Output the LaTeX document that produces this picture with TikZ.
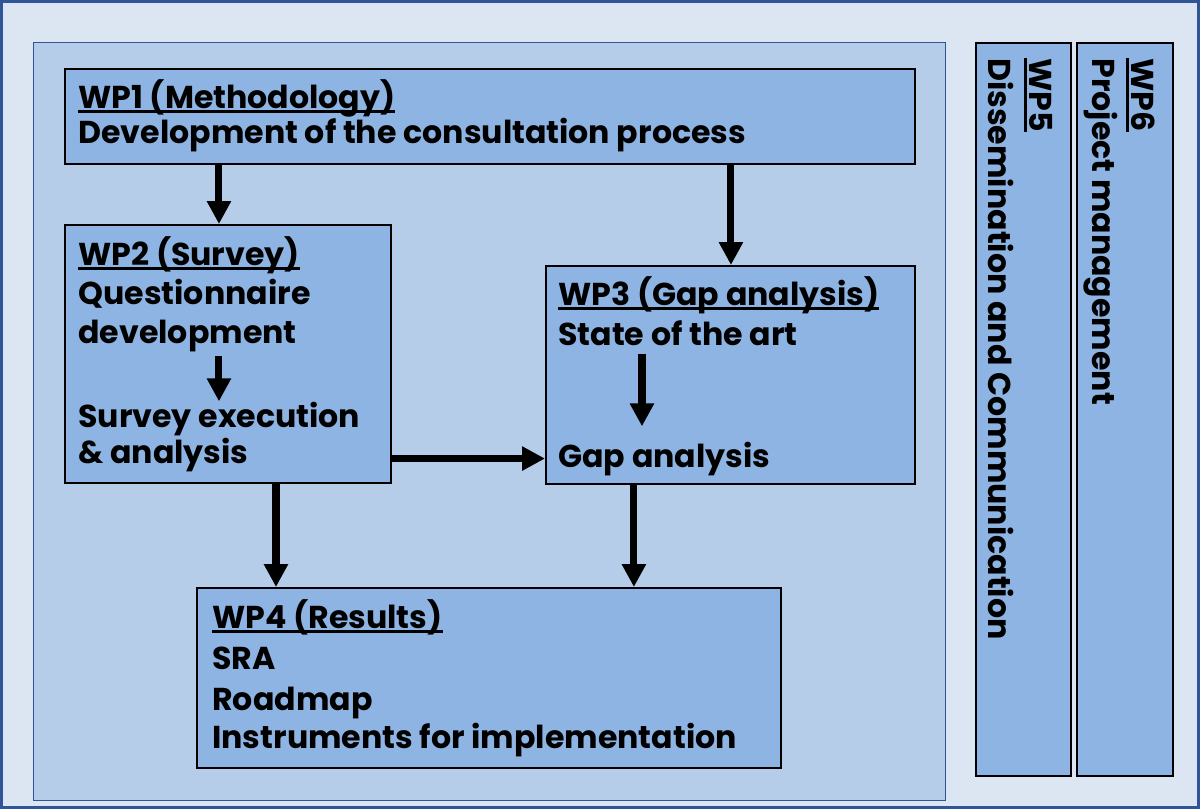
\documentclass[tikz,border=0pt]{standalone}
\usepackage{fontspec}
\setmainfont{Poppins}
\usetikzlibrary{arrows.meta}
\definecolor{outerbg}{RGB}{220,230,242}
\definecolor{panelbg}{RGB}{181,205,232}
\definecolor{wpfill}{RGB}{141,180,226}
\definecolor{frameblue}{RGB}{47,85,151}
\newlength{\wpulwd}
\newcommand{\wpul}[1]{\settowidth{\wpulwd}{#1}\rlap{\rule[-2.6pt]{\wpulwd}{1.3pt}}#1}
\tikzset{
	wpbox/.style={draw=black, line width=1.1pt, fill=wpfill, anchor=north west, inner sep=0pt},
	wptext/.style={anchor=base west, inner sep=0pt, font=\bfseries\fontsize{18}{22}\selectfont},
	wpvert/.style={wptext, rotate=-90},
	flow/.style={line width=4pt, -{Triangle[length=13pt,width=13pt]}}
}
\begin{document}
\begin{tikzpicture}[x=0.02cm,y=-0.02cm]
	\useasboundingbox (0,0) rectangle (1200,809);
	\draw[frameblue, line width=1.5pt, fill=outerbg] (1.3,1.3) rectangle (1198.7,807.7);
	\node[draw=frameblue, line width=0.8pt, fill=panelbg, anchor=north west, inner sep=0pt,
		minimum width=18.24cm, minimum height=15.16cm] (panel) at (33,42) {};
	% work packages
	\node[wpbox, minimum width=17cm, minimum height=1.9cm] (wp1) at (64,68) {};
	\node[wpbox, minimum width=6.52cm, minimum height=5.16cm] (wp2) at (64,224) {};
	\node[wpbox, minimum width=7.38cm, minimum height=4.36cm] (wp3) at (545,265) {};
	\node[wpbox, minimum width=11.68cm, minimum height=3.6cm] (wp4) at (196,587) {};
	\node[wpbox, minimum width=1.9cm, minimum height=14.66cm] (wp5) at (975,42) {};
	\node[wpbox, minimum width=1.92cm, minimum height=14.66cm] (wp6) at (1076,42) {};
	% texts
	\node[wptext] (wp1head) at (78,108) {\wpul{WP1 (Methodology)}};
	\node[wptext] (wp1line) at (78,143) {Development of the consultation process};
	\node[wptext] (wp2head) at (78,265) {\wpul{WP2 (Survey)}};
	\node[wptext] (quest) at (78,304) {Questionnaire};
	\node[wptext] (qdev) at (78,343) {development};
	\node[wptext] (surv) at (78,427) {Survey execution};
	\node[wptext] (sana) at (78,463) {\& analysis};
	\node[wptext] (wp3head) at (558,305) {\wpul{WP3 (Gap analysis)}};
	\node[wptext] (sota) at (558,345) {State of the art};
	\node[wptext] (gap) at (558,467) {Gap analysis};
	\node[wptext] (wp4head) at (212,628) {\wpul{WP4 (Results)}};
	\node[wptext] (sra) at (212,669) {SRA};
	\node[wptext] (road) at (212,710) {Roadmap};
	\node[wptext] (instr) at (212,748) {Instruments for implementation};
	\node[wpvert] (wp5head) at (1029,58) {\wpul{WP5}};
	\node[wpvert] (wp5line) at (988,58) {Dissemination and Communication};
	\node[wpvert] (wp6head) at (1131,58) {\wpul{WP6}};
	\node[wpvert] (wp6line) at (1092,58) {Project management};
	% arrows
	\draw[flow] ([xshift=3.1cm]wp2.north west |- wp1.south) -- ([xshift=3.1cm]wp2.north west);
	\draw[flow] ([xshift=3.72cm]wp3.north west |- wp1.south) -- ([xshift=3.72cm]wp3.north west);
	\draw[flow, shorten <=0.08cm] ([xshift=3.1cm]wp2.north west |- qdev.south) -- ([xshift=3.1cm]wp2.north west |- surv.north);
	\draw[flow, shorten <=0.16cm, shorten >=0.3cm] ([xshift=1.94cm]wp3.north west |- sota.south) -- ([xshift=1.94cm]wp3.north west |- gap.north);
	\draw[flow] (wp2.east |- gap.west) -- (wp3.west |- gap.west);
	\draw[flow] ([xshift=1.6cm]wp4.north west |- wp2.south) -- ([xshift=1.6cm]wp4.north west);
	\draw[flow] ([xshift=8.76cm]wp4.north west |- wp3.south) -- ([xshift=8.76cm]wp4.north west);
\end{tikzpicture}
\end{document}
